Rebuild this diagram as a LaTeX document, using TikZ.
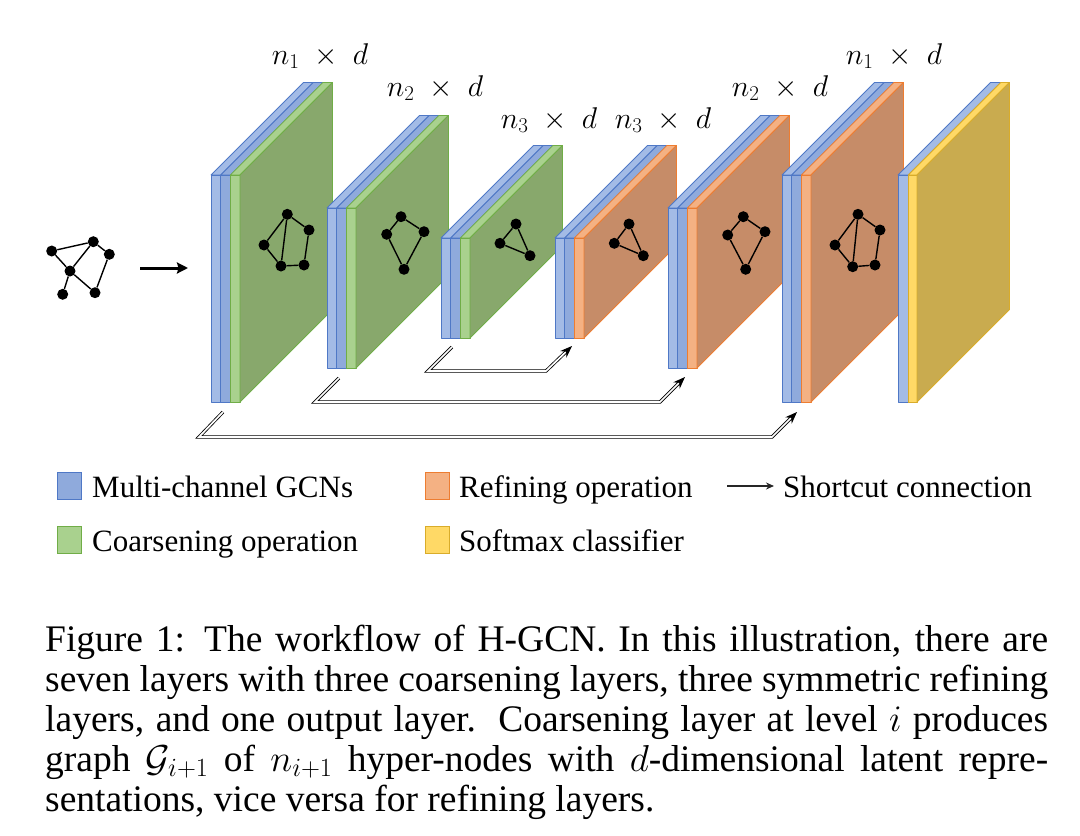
\RequirePackage{fix-cm}
\documentclass[tikz,border=0pt]{standalone}
\usepackage{fontspec}
\setmainfont{Liberation Serif}
\usetikzlibrary{arrows.meta}
\definecolor{blueF}{HTML}{8FAADC}
\definecolor{blueL}{HTML}{A3BBE6}
\definecolor{blueD}{HTML}{4F78C6}
\definecolor{greenF}{HTML}{A9D18E}
\definecolor{greenD}{HTML}{70AD47}
\definecolor{greenS}{HTML}{88A86C}
\definecolor{orangeF}{HTML}{F4B183}
\definecolor{orangeD}{HTML}{ED7D31}
\definecolor{orangeS}{HTML}{C68C68}
\definecolor{yellowF}{HTML}{FFD966}
\definecolor{yellowD}{HTML}{D9AC2A}
\definecolor{yellowS}{HTML}{C9AB4F}
\def\dep{92.5}
% slab: x0, x1, top, bottom, fill, draw
\newcommand\slab[6]{%
  \filldraw[fill=#5,draw=#6,line width=0.8pt,line join=round] (#1,#3) -- (#2,#3) -- (#2+\dep,#3-\dep) -- (#1+\dep,#3-\dep) -- cycle;
  \filldraw[fill=#5,draw=#6,line width=0.8pt,line join=round] (#1,#3) rectangle (#2,#4);}
% side face: x1, top, bottom, fill, draw
\newcommand\sideface[5]{%
  \filldraw[fill=#4,draw=#5,line width=0.8pt,line join=round] (#1,#2) -- (#1+\dep,#2-\dep) -- (#1+\dep,#3-\dep) -- (#1,#3) -- cycle;}
% three-slab layer: x0, top, bottom, last fill, last draw, side fill
\newcommand\layerthree[6]{%
  \slab{#1}{#1+9.7}{#2}{#3}{blueL}{blueD}
  \slab{#1+9.7}{#1+19.4}{#2}{#3}{blueF}{blueD}
  \slab{#1+19.4}{#1+29}{#2}{#3}{#4}{#5}
  \sideface{#1+29}{#2}{#3}{#6}{#5}}
\tikzset{
  gnode/.style={circle,fill=black,inner sep=0pt,minimum size=11pt},
  gedge/.style={line width=1.4pt},
  shortcut/.style={draw=black,double=white,line width=0.8pt,double distance=1.7pt,line join=miter,-{Stealth[length=12pt,width=9pt]}},
  legbox/.style 2 args={fill=#1,draw=#2,line width=1pt,minimum width=24pt,minimum height=27pt,inner sep=0pt},
  legtext/.style={anchor=base west,font=\fontsize{31}{36}\selectfont,inner sep=0pt},
  dimlabel/.style={anchor=base,font=\fontsize{30}{36}\selectfont,inner sep=0pt},
  captext/.style={anchor=base west,font=\fontsize{37.5}{40}\selectfont,inner sep=0pt,text height=26pt,text depth=8pt}
}
\begin{document}
\begin{tikzpicture}[x=1pt,y=-1pt]
\useasboundingbox (0,0) rectangle (1080,836);
% ---------- input graph ----------
\node[gnode] (iA) at (51.7,251) {};
\node[gnode] (iB) at (93.3,241.7) {};
\node[gnode] (iC) at (109.3,254.3) {};
\node[gnode] (iD) at (70,271) {};
\node[gnode] (iE) at (62.7,294.3) {};
\node[gnode] (iF) at (95,292.7) {};
\draw[gedge] (iA) -- (iB) (iA) -- (iD) (iB) -- (iD) (iB) -- (iC) (iC) -- (iF) (iD) -- (iF) (iD) -- (iE);
\coordinate (inS) at (140,268);
\coordinate (inT) at (188,268);
\draw[line width=3pt,-{Stealth[length=11pt,width=11pt,inset=1.5pt]}] (inS) -- (inT);
% ---------- layers ----------
\layerthree{211}{175}{402}{greenF}{greenD}{greenS}
\layerthree{327}{208}{368}{greenF}{greenD}{greenS}
\layerthree{441}{238}{338}{greenF}{greenD}{greenS}
\layerthree{555}{238}{338}{orangeF}{orangeD}{orangeS}
\layerthree{668}{208}{368}{orangeF}{orangeD}{orangeS}
\layerthree{782}{175}{402}{orangeF}{orangeD}{orangeS}
\slab{898}{908.3}{175}{402}{blueL}{blueD}
\slab{908.3}{917}{175}{402}{yellowF}{yellowD}
\sideface{917}{175}{402}{yellowS}{yellowD}
% ---------- graphs on layers ----------
\node[gnode] (a1) at (287.3,214.3) {};
\node[gnode] (b1) at (309,230) {};
\node[gnode] (c1) at (264,245) {};
\node[gnode] (d1) at (281,266) {};
\node[gnode] (e1) at (304,265) {};
\draw[gedge] (a1) -- (b1) -- (e1) -- (d1) -- (c1) -- (a1) (a1) -- (d1);
\node[gnode] (a2) at (401,216.7) {};
\node[gnode] (b2) at (424,231.7) {};
\node[gnode] (c2) at (386.7,234.3) {};
\node[gnode] (d2) at (404,269.3) {};
\draw[gedge] (a2) -- (b2) -- (d2) -- (c2) -- (a2);
\node[gnode] (a3) at (516,224) {};
\node[gnode] (b3) at (500,243.3) {};
\node[gnode] (c3) at (530,255.7) {};
\draw[gedge] (a3) -- (b3) -- (c3) -- (a3);
\node[gnode] (a4) at (629,224) {};
\node[gnode] (b4) at (614.3,243.3) {};
\node[gnode] (c4) at (643.3,255.7) {};
\draw[gedge] (a4) -- (b4) -- (c4) -- (a4);
\node[gnode] (a5) at (743.3,216.7) {};
\node[gnode] (b5) at (765,231.7) {};
\node[gnode] (c5) at (727.7,235) {};
\node[gnode] (d5) at (745.7,269.3) {};
\draw[gedge] (a5) -- (b5) -- (d5) -- (c5) -- (a5);
\node[gnode] (a6) at (858,214.3) {};
\node[gnode] (b6) at (880,230) {};
\node[gnode] (c6) at (835,245) {};
\node[gnode] (d6) at (852.7,266.7) {};
\node[gnode] (e6) at (875,265) {};
\draw[gedge] (a6) -- (b6) -- (e6) -- (d6) -- (c6) -- (a6) (a6) -- (d6);
% ---------- dimension labels ----------
\node[dimlabel] (lab1) at (320,64) {$n_1\;\times\;d$};
\node[dimlabel] (lab2) at (435,96) {$n_2\;\times\;d$};
\node[dimlabel] (lab3) at (549,128) {$n_3\;\times\;d$};
\node[dimlabel] (lab4) at (663,128) {$n_3\;\times\;d$};
\node[dimlabel] (lab5) at (780,96) {$n_2\;\times\;d$};
\node[dimlabel] (lab6) at (894,64) {$n_1\;\times\;d$};
% ---------- shortcut connections ----------
\coordinate (sA) at (452,347); \coordinate (kA1) at (428,371); \coordinate (kA2) at (546,371); \coordinate (tA) at (572,346);
\coordinate (sB) at (339,378); \coordinate (kB1) at (315,402); \coordinate (kB2) at (660,402); \coordinate (tB) at (685,377);
\coordinate (sC) at (223,412); \coordinate (kC1) at (199,437); \coordinate (kC2) at (772,437); \coordinate (tC) at (797,412);
\draw[shortcut] (sA) -- (kA1) -- (kA2) -- (tA);
\draw[shortcut] (sB) -- (kB1) -- (kB2) -- (tB);
\draw[shortcut] (sC) -- (kC1) -- (kC2) -- (tC);
% ---------- legend ----------
\node[legbox={blueF}{blueD}] (lgB) at (69,486) {};
\node[legtext] (ltB) at (92,497) {Multi-channel GCNs};
\node[legbox={greenF}{greenD}] (lgG) at (69,540) {};
\node[legtext] (ltG) at (92,551) {Coarsening operation};
\node[legbox={orangeF}{orangeD}] (lgO) at (437.5,486) {};
\node[legtext] (ltO) at (459,497) {Refining operation};
\node[legbox={yellowF}{yellowD}] (lgY) at (437.5,540) {};
\node[legtext] (ltY) at (459,551) {Softmax classifier};
\coordinate (laS) at (727,486);
\coordinate (laT) at (774,486);
\draw[line width=2pt,black!85,-{Stealth[length=8pt,width=7pt]}] (laS) -- (laT);
\node[legtext] (ltS) at (783,497) {Shortcut connection};
% ---------- caption ----------
\node[captext] (cap1) at (45,651) {\makebox[1003pt][s]{Figure 1: The workflow of H-GCN. In this illustration, there are}};
\node[captext] (cap2) at (45,691) {\makebox[1003pt][s]{seven layers with three coarsening layers, three symmetric refining}};
\node[captext] (cap3) at (45,731) {\makebox[1003pt][s]{layers, and one output layer.\ \ Coarsening layer at level $i$ produces}};
\node[captext] (cap4) at (45,771) {\makebox[1003pt][s]{graph $\mathcal{G}_{i+1}$ of $n_{i+1}$ hyper-nodes with $d$-dimensional latent repre-}};
\node[captext] (cap5) at (45,811) {sentations, vice versa for refining layers.};
\end{tikzpicture}
\end{document}
